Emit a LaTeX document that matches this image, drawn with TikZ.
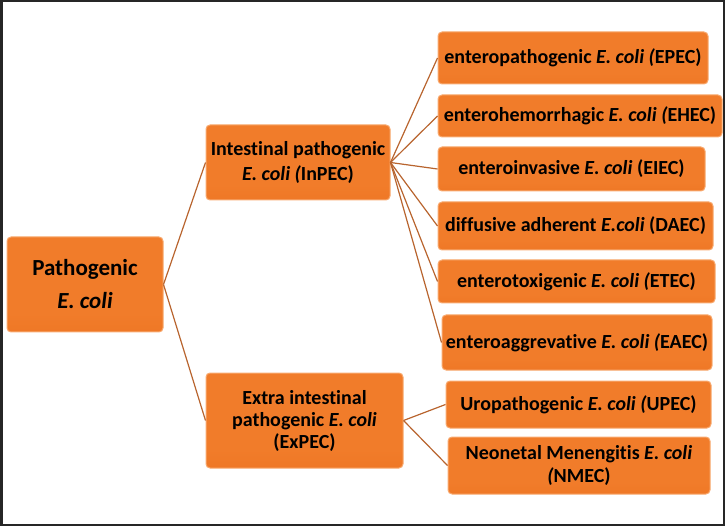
\documentclass[tikz,border=0pt]{standalone}
\usepackage{fontspec}
\setmainfont{Carlito}[Ligatures=NoCommon]
\definecolor{boxtop}{HTML}{F9B07A}
\definecolor{boxmid}{HTML}{F17C2A}
\definecolor{boxbot}{HTML}{E96D1C}
\definecolor{boxedge}{HTML}{F8AA70}
\definecolor{linkcol}{HTML}{B8642E}
\pgfdeclareverticalshading{boxshade}{100bp}{color(0bp)=(boxbot); color(35bp)=(boxmid); color(80bp)=(boxmid); color(92bp)=(boxtop); color(97bp)=(boxmid); color(100bp)=(boxtop)}
\tikzset{
  ebox/.style={draw=boxedge, line width=1pt, rounded corners=4pt,
    shading=boxshade, shading angle=0,
    inner sep=0pt, align=center, text=black,
    font=\fontsize{20}{24}\selectfont\bfseries},
  link/.style={draw=linkcol, line width=1.2pt},
}
\begin{document}
\begin{tikzpicture}[x=1pt,y=-1pt]
\useasboundingbox (0,0) rectangle (725,526);
\draw[line width=2.5pt, black!85] (1.25,1.25) rectangle (723.75,524.75);

\node[ebox, minimum width=156pt, minimum height=95pt,
  font=\fontsize{23}{33}\selectfont\bfseries] (root) at (85,284.5)
  {Pathogenic\\\textit{E. coli}};
\node[ebox, minimum width=184pt, minimum height=75pt,
  font=\fontsize{20}{25}\selectfont\bfseries] (inpec) at (298,162.5)
  {Intestinal pathogenic\\\textit{E. coli (}InPEC)};
\node[ebox, minimum width=197pt, minimum height=95pt,
  font=\fontsize{20}{22}\selectfont\bfseries] (expec) at (304.5,420.5)
  {Extra intestinal\\pathogenic \textit{E. coli}\\(ExPEC)};

\node[ebox, minimum width=270pt, minimum height=52pt] (epec) at (573,58)
  {enteropathogenic \textit{E. coli (}EPEC)};
\node[ebox, minimum width=284pt, minimum height=42pt] (ehec) at (580,116)
  {enterohemorrhagic \textit{E. coli (}EHEC)};
\node[ebox, minimum width=267pt, minimum height=44pt] (eiec) at (571.5,169)
  {enteroinvasive \textit{E. coli} (EIEC)};
\node[ebox, minimum width=275pt, minimum height=48pt] (daec) at (575.5,226)
  {diffusive adherent \textit{E.coli} (DAEC)};
\node[ebox, minimum width=277pt, minimum height=43pt] (etec) at (576.5,281.5)
  {enterotoxigenic \textit{E. coli (}ETEC)};
\node[ebox, minimum width=270pt, minimum height=55pt] (eaec) at (577,342.5)
  {enteroaggrevative \textit{E. coli (}EAEC)};
\node[ebox, minimum width=265pt, minimum height=47pt] (upec) at (578.5,404.5)
  {Uropathogenic \textit{E. coli (}UPEC)};
\node[ebox, minimum width=262pt, minimum height=57pt,
  font=\fontsize{20}{23}\selectfont\bfseries] (nmec) at (579,465.5)
  {Neonetal Menengitis \textit{E. coli}\\\textit{(}NMEC)};

\draw[link] (root.east) -- (inpec.west);
\draw[link] (root.east) -- (expec.west);
\foreach \t in {epec,ehec,eiec,daec,etec,eaec}
  \draw[link] (inpec.east) -- (\t.west);
\draw[link] (expec.east) -- (upec.west);
\draw[link] (expec.east) -- (nmec.west);
\end{tikzpicture}
\end{document}
